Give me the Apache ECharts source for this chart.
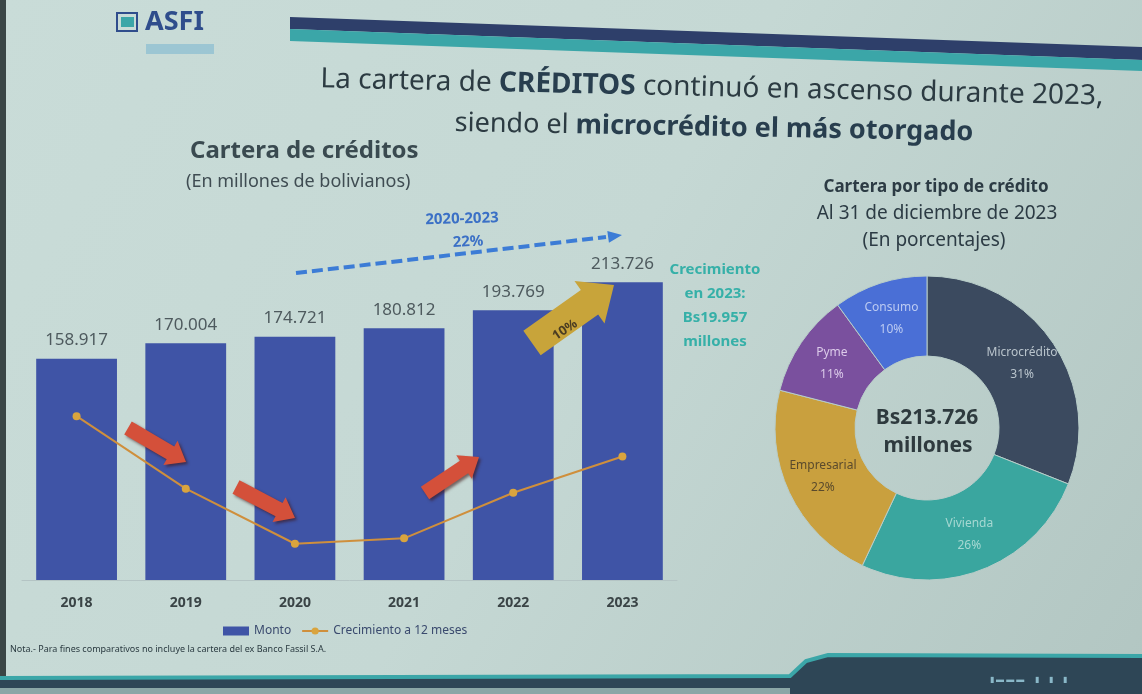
<!DOCTYPE html>
<html>
<head>
<meta charset="utf-8">
<script src="https://cdn.jsdelivr.net/npm/echarts@6/dist/echarts.min.js"></script>
<style>html,body{margin:0;padding:0;}#c{width:1142px;height:694px;}</style>
</head>
<body>
<div id="c"></div>
<script>
// ---- data ----
const years = ['2018', '2019', '2020', '2021', '2022', '2023'];
const monto = [158.917, 170.004, 174.721, 180.812, 193.769, 213.726];
const crecimiento = [12.2, 6.8, 2.7, 3.1, 6.5, 9.2];
const tipos = ['Microcrédito', 'Vivienda', 'Empresarial', 'Pyme', 'Consumo'];
const tiposPct = [31, 26, 22, 11, 10];

const fmtNum = v => v.toFixed(3);
const chart = echarts.init(document.getElementById('c'));

function arrow(x1, y1, x2, y2, sw, hw, hl) {
  const dx = x2 - x1, dy = y2 - y1, L = Math.hypot(dx, dy);
  const ux = dx / L, uy = dy / L, nx = -uy, ny = ux;
  const bx = x2 - ux * hl, by = y2 - uy * hl;
  return [
    [x1 + nx * sw / 2, y1 + ny * sw / 2],
    [bx + nx * sw / 2, by + ny * sw / 2],
    [bx + nx * hw / 2, by + ny * hw / 2],
    [x2, y2],
    [bx - nx * hw / 2, by - ny * hw / 2],
    [bx - nx * sw / 2, by - ny * sw / 2],
    [x1 - nx * sw / 2, y1 - ny * sw / 2]
  ];
}
const redArrow = (a, b, c, d) => ({
  type: 'polygon', shape: { points: arrow(a, b, c, d, 15, 28, 18) },
  style: { fill: '#d4503a', shadowBlur: 3, shadowColor: 'rgba(60,20,20,0.6)', shadowOffsetX: 2, shadowOffsetY: 2 }, z: 10
});

const pieLabelColors = ['#b9c4cc', '#a6d8d2', '#5a4a2c', '#dccbea', '#bccbf2'];
const pieColors = ['#3b4a5f', '#3aa69f', '#c9a03e', '#7a509e', '#4a6fd6'];

const option = {
  backgroundColor: new echarts.graphic.LinearGradient(0, 0, 1, 1, [
    { offset: 0, color: '#c9dcd8' }, { offset: 0.5, color: '#c5d8d4' }, { offset: 1, color: '#b2c6c2' }
  ]),
  animation: false,
  textStyle: { fontFamily: 'Noto Sans' },
  grid: { left: 22, right: 465, top: 204, bottom: 114 },
  xAxis: {
    type: 'category', data: years,
    axisLine: { lineStyle: { color: '#b4c4c4' } }, axisTick: { show: false },
    axisLabel: { color: '#3a4446', fontSize: 14, fontWeight: 'bold', margin: 16 }
  },
  yAxis: [
    { type: 'value', min: 0, max: 270, show: false, splitLine: { show: false } },
    { type: 'value', min: 0, max: 28, show: false, splitLine: { show: false } }
  ],
  legend: {
    left: 218, top: 620, itemGap: 10, itemWidth: 26, itemHeight: 9,
    textStyle: { color: '#3a4a6e', fontSize: 12 },
    data: [{ name: 'Monto', icon: 'rect' }, { name: 'Crecimiento a 12 meses' }]
  },
  series: [
    {
      name: 'Monto', type: 'bar', data: monto, barCategoryGap: '26%',
      itemStyle: { color: '#3f54a6' },
      label: { show: true, position: 'top', distance: 10, color: '#4e5a5e', fontSize: 17, formatter: p => fmtNum(p.value) }
    },
    {
      name: 'Crecimiento a 12 meses', type: 'line', yAxisIndex: 1, data: crecimiento,
      lineStyle: { color: '#cf8f3c', width: 2 }, itemStyle: { color: '#d9a43e' },
      symbol: 'circle', symbolSize: 8
    },
    {
      name: 'Cartera por tipo', type: 'pie', center: [927, 428], radius: [72, 152],
      startAngle: 90, clockwise: true,
      data: tipos.map((n, i) => ({ name: n, value: tiposPct[i], itemStyle: { color: pieColors[i] }, label: { color: pieLabelColors[i] } })),
      itemStyle: { borderColor: '#b8cdc9', borderWidth: 1 },
      label: { show: true, position: 'inside', formatter: '{b}\n{c}%', fontSize: 12, lineHeight: 22, fontFamily: 'Noto Sans' },
      labelLine: { show: false }
    }
  ],
  graphic: [
    { type: 'rect', shape: { x: 0, y: 0, width: 6, height: 694 }, style: { fill: '#3a4646' } },
    // header bands
    { type: 'polygon', shape: { points: [[290, 17], [1142, 47], [1142, 60], [290, 29]] }, style: { fill: '#2e3f6a' } },
    { type: 'polygon', shape: { points: [[290, 29], [1142, 60], [1142, 71], [290, 41]] }, style: { fill: '#3ba6a8' } },
    // logo
    { type: 'text', left: 145, top: 9, style: { text: 'ASFI', font: 'bold 27px "Noto Sans"', fill: '#2f4d8c' } },
    { type: 'rect', shape: { x: 117, y: 13, width: 20, height: 18 }, style: { fill: 'none', stroke: '#2f4d8c', lineWidth: 2 } },
    { type: 'rect', shape: { x: 121, y: 17, width: 13, height: 10 }, style: { fill: '#3ba6a8' } },
    { type: 'rect', shape: { x: 146, y: 44, width: 68, height: 10 }, style: { fill: '#7fb8d0', opacity: 0.6 } },
    // main titles
    {
      type: 'text', x: 712, y: 88, rotation: -0.022,
      style: {
        text: '{n|La cartera de }{b|CRÉDITOS}{n| continuó en ascenso durante 2023,}',
        align: 'center', verticalAlign: 'middle',
        rich: { n: { font: '28px "Noto Sans"', fill: '#2c3b42' }, b: { font: 'bold 28px "Noto Sans"', fill: '#283e4e' } }
      }
    },
    {
      type: 'text', x: 714, y: 128, rotation: -0.018,
      style: {
        text: '{n|siendo el }{b|microcrédito el más otorgado}',
        align: 'center', verticalAlign: 'middle',
        rich: { n: { font: '27px "Noto Sans"', fill: '#2c3b42' }, b: { font: 'bold 27px "Noto Sans"', fill: '#283e4e' } }
      }
    },
    { type: 'text', left: 190, top: 139, style: { text: 'Cartera de créditos', font: 'bold 24px "Noto Sans"', fill: '#3a4a50' } },
    { type: 'text', left: 186, top: 173, style: { text: '(En millones de bolivianos)', font: '18px "Noto Sans"', fill: '#3f4c52' } },
    // right titles
    { type: 'text', x: 936, y: 187, style: { text: 'Cartera por tipo de crédito', font: 'bold 17px "Noto Sans"', fill: '#2c3b44', align: 'center', verticalAlign: 'middle' } },
    { type: 'text', x: 937, y: 214, style: { text: 'Al 31 de diciembre de 2023', font: '19px "Noto Sans"', fill: '#2c3b44', align: 'center', verticalAlign: 'middle' } },
    { type: 'text', x: 934, y: 241, style: { text: '(En porcentajes)', font: '19px "Noto Sans"', fill: '#2c3b44', align: 'center', verticalAlign: 'middle' } },
    // donut center
    { type: 'text', x: 927, y: 418, style: { text: 'Bs213.726', font: 'bold 21px "Noto Sans"', fill: '#2e3a3e', align: 'center', verticalAlign: 'middle' } },
    { type: 'text', x: 928, y: 446, style: { text: 'millones', font: 'bold 21px "Noto Sans"', fill: '#2e3a3e', align: 'center', verticalAlign: 'middle' } },
    // dashed growth arrow
    { type: 'polyline', shape: { points: [[296, 273], [606, 237]] }, style: { stroke: '#3c7cd6', lineWidth: 4, lineDash: [11, 5] }, z: 10 },
    { type: 'polygon', shape: { points: arrow(600, 238, 622, 235, 0, 12, 14) }, style: { fill: '#3c7cd6' }, z: 10 },
    { type: 'text', x: 462, y: 219, rotation: 0.03, style: { text: '2020-2023', font: 'bold 15px "Noto Sans"', fill: '#3b70c6', align: 'center', verticalAlign: 'middle' } },
    { type: 'text', x: 468, y: 242, rotation: 0.05, style: { text: '22%', font: 'bold 15px "Noto Sans"', fill: '#3b70c6', align: 'center', verticalAlign: 'middle' } },
    // red arrows
    redArrow(128, 428, 186, 462),
    redArrow(236, 487, 295, 518),
    redArrow(425, 493, 479, 457),
    // gold arrow
    { type: 'polygon', shape: { points: arrow(532, 343, 614, 285, 30, 52, 30) }, style: { fill: '#c8a43a' }, z: 10 },
    { type: 'text', x: 565, y: 330, rotation: 0.6, style: { text: '10%', font: 'bold 13px "Noto Sans"', fill: '#4a3c22', align: 'center', verticalAlign: 'middle' }, z: 11 },
    // growth note
    { type: 'text', x: 715, y: 306, style: { text: 'Crecimiento\nen 2023:\nBs19.957\nmillones', font: 'bold 15px "Noto Sans"', lineHeight: 24, fill: '#36b0a8', align: 'center', verticalAlign: 'middle' } },
    // nota
    { type: 'text', left: 10, top: 645, style: { text: 'Nota.- Para fines comparativos no incluye la cartera del ex Banco Fassil S.A.', font: '9px "Noto Sans"', fill: '#2a3a40' } },
    // bottom bands
    { type: 'polygon', shape: { points: [[0, 679], [790, 677], [806, 662], [828, 656], [1142, 657], [1142, 694], [0, 694]] }, style: { fill: '#2e4656' } },
    { type: 'polyline', shape: { points: [[0, 678], [790, 676], [806, 661], [828, 655], [1142, 656]] }, style: { stroke: '#3ba6a8', lineWidth: 4 } },
    { type: 'rect', shape: { x: 0, y: 688, width: 790, height: 6 }, style: { fill: '#8aa6a6' } },
    { type: 'text', left: 990, top: 676, style: { text: '▮ ▬ ▬ ▬     ▮     ▮     ▮', font: '8px "Noto Sans"', fill: '#8ab8c8' } }
  ]
};
chart.setOption(option);
</script>
</body>
</html>
